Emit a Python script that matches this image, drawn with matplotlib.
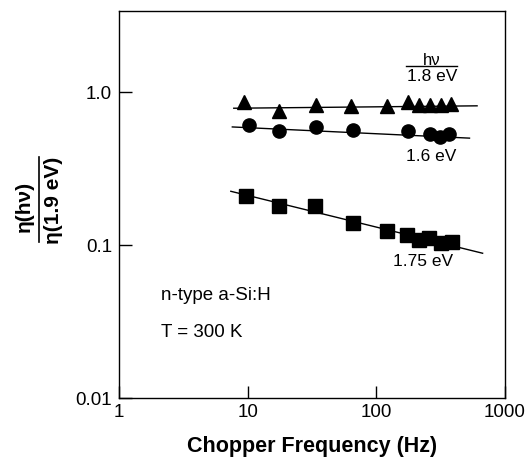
import matplotlib
matplotlib.use("Agg")
import matplotlib.pyplot as plt
from matplotlib.lines import Line2D

# chopper frequency (Hz) and normalised efficiency
freq_18 = [9.3, 17.4, 33.7, 64, 120, 176, 215, 263, 321, 380]
eta_18 = [0.86, 0.75, 0.83, 0.81, 0.81, 0.86, 0.82, 0.83, 0.83, 0.84]

freq_16 = [10.2, 17.4, 33.7, 66, 176, 263, 311, 367]
eta_16 = [0.615, 0.558, 0.593, 0.564, 0.558, 0.530, 0.509, 0.530]

freq_175 = [9.7, 17.4, 33.3, 66, 120, 173, 215, 258, 321, 385]
eta_175 = [0.210, 0.180, 0.180, 0.140, 0.123, 0.117, 0.108, 0.111, 0.103, 0.105]

# fitted power-law lines (end points)
fit_x_18 = [7.8, 607]
fit_y_18 = [0.786, 0.815]
fit_x_16 = [7.6, 530]
fit_y_16 = [0.593, 0.501]
fit_x_175 = [7.4, 670]
fit_y_175 = [0.225, 0.0885]

x_ticks = [1, 10, 100, 1000]
x_tick_labels = ["1", "10", "100", "1000"]
y_ticks = [0.01, 0.1, 1.0]
y_tick_labels = ["0.01", "0.1", "1.0"]

plt.rcParams["font.family"] = ["Liberation Sans", "DejaVu Sans"]

fig = plt.figure(figsize=(5.30, 4.62), dpi=100)
ax = fig.add_axes([0.2245, 0.1385, 0.7283, 0.8377])

ax.plot(fit_x_18, fit_y_18, color="black", lw=1.0)
ax.plot(fit_x_16, fit_y_16, color="black", lw=1.0)
ax.plot(fit_x_175, fit_y_175, color="black", lw=1.0)

ax.plot(freq_18, eta_18, "^", color="black", ms=10, ls="none")
ax.plot(freq_16, eta_16, "o", color="black", ms=9.5, ls="none")
ax.plot(freq_175, eta_175, "s", color="black", ms=9.5, ls="none")

ax.set_xscale("log")
ax.set_yscale("log")
ax.set_xlim(1, 1000)
ax.set_ylim(0.01, 3.4)

ax.set_xticks(x_ticks)
ax.set_xticklabels(x_tick_labels)
ax.set_yticks(y_ticks)
ax.set_yticklabels(y_tick_labels)
ax.minorticks_off()
ax.tick_params(direction="in", length=9, width=1.0, labelsize=13.5)
ax.tick_params(axis="x", pad=4)
ax.tick_params(axis="y", pad=5)
for s in ax.spines.values():
    s.set_linewidth(1.0)

ax.set_xlabel("Chopper Frequency (Hz)", fontsize=15.5, fontweight="bold", labelpad=11)

# curve labels
ax.text(0.811, 0.873, "hν", transform=ax.transAxes, ha="center", va="center", fontsize=12)
ax.plot([0.7435, 0.8756], [0.859, 0.859], transform=ax.transAxes, color="black", lw=1.0)
ax.text(0.811, 0.830, "1.8 eV", transform=ax.transAxes, ha="center", va="center", fontsize=12.5)
ax.text(0.808, 0.623, "1.6 eV", transform=ax.transAxes, ha="center", va="center", fontsize=12.5)
ax.text(0.788, 0.352, "1.75 eV", transform=ax.transAxes, ha="center", va="center", fontsize=12.5)

ax.text(0.109, 0.266, "n-type a-Si:H", transform=ax.transAxes, ha="left", va="center", fontsize=13.5)
ax.text(0.109, 0.168, "T = 300 K", transform=ax.transAxes, ha="left", va="center", fontsize=13.5)

# y label as a stacked fraction
fig.text(0.046, 0.554, "η(hν)", rotation=90, ha="center", va="center",
         fontsize=15, fontweight="bold")
fig.text(0.101, 0.567, "η(1.9 eV)", rotation=90, ha="center", va="center",
         fontsize=15, fontweight="bold")
fig.add_artist(Line2D([0.0736, 0.0736], [0.476, 0.660], color="black", lw=1.2,
                      transform=fig.transFigure))

fig.savefig("out.png", dpi=100)
